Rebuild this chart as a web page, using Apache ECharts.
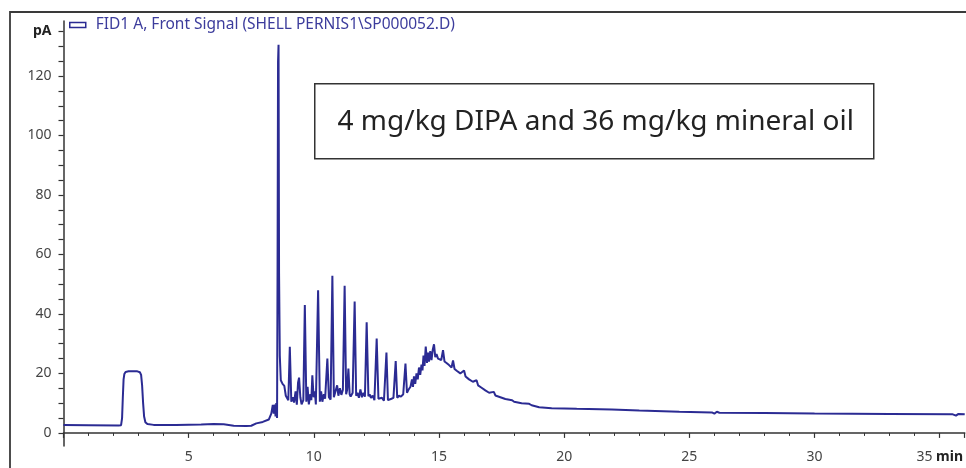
<!DOCTYPE html>
<html>
<head>
<meta charset="utf-8">
<script src="https://cdn.jsdelivr.net/npm/echarts@6/dist/echarts.min.js"></script>
<style>
    html, body { margin: 0; padding: 0; background: #fff; }
    #chart { width: 966px; height: 468px; }
</style>
</head>
<body>
<div id="chart"></div>
<script>
// retention time (min) and detector signal (pA)
const times = [
    0, 1.0, 2.2, 2.30, 2.34, 2.37, 2.40, 2.43, 2.48, 2.60, 2.95, 3.05, 3.10, 3.14, 3.18,
    3.22, 3.27, 3.35, 3.6,
    4.5, 5.5, 6.0, 6.4, 6.8, 7.3, 7.5, 7.7, 7.96, 8.2, 8.30, 8.36, 8.40, 8.44, 8.47,
    8.50, 8.53, 8.55, 8.57, 8.59, 8.61, 8.64, 8.68, 8.75, 8.82, 8.88, 8.92, 8.98, 9.04,
    9.10, 9.16, 9.21, 9.27, 9.32, 9.37, 9.41, 9.46, 9.51, 9.58, 9.64, 9.70, 9.75, 9.80,
    9.86, 9.90, 9.94, 9.99, 10.04, 10.08, 10.17, 10.24, 10.29, 10.34, 10.40, 10.45, 10.54,
    10.60, 10.67, 10.74, 10.80, 10.87, 10.93, 10.98, 11.04, 11.10, 11.16, 11.23, 11.29,
    11.33, 11.38, 11.43, 11.47, 11.55, 11.63, 11.69, 11.74, 11.80, 11.86, 11.92, 11.98,
    12.04, 12.11, 12.18, 12.23, 12.28, 12.35, 12.42, 12.51, 12.58, 12.64, 12.72, 12.80,
    12.90, 12.96, 13.02, 13.10, 13.18, 13.27, 13.33, 13.40, 13.48, 13.57, 13.66, 13.72,
    13.78, 13.86, 13.92, 13.96, 14.00, 14.05, 14.10, 14.15, 14.20, 14.25, 14.30, 14.34,
    14.38, 14.42, 14.47, 14.52, 14.56, 14.60, 14.65, 14.70, 14.75, 14.80, 14.85, 14.90,
    14.96, 15.02, 15.09, 15.16, 15.22, 15.30, 15.40, 15.50, 15.56, 15.62, 15.72, 15.85,
    16.00, 16.06, 16.20, 16.35, 16.50, 16.56, 16.70, 16.85, 17.00, 17.19, 17.25, 17.45,
    17.65, 17.92, 18.00, 18.30, 18.60, 18.65, 18.70, 19.0, 19.5, 20.5, 21.9, 23.0, 24.6,
    25.9, 26.0, 26.1, 26.2, 28, 30, 33, 35.5, 35.65, 35.75, 36
];
const signal = [
    2.7, 2.6, 2.5, 2.6, 5, 12, 18, 19.8, 20.5, 20.7, 20.7, 20.4, 19.5, 16, 10,
    5.5, 3.6, 3.0, 2.7,
    2.7, 2.8, 3.0, 2.9, 2.4, 2.3, 2.4, 3.2, 3.7, 4.5, 6.5, 9.4, 6.5, 9.5, 5.5,
    10, 5, 54, 124.8, 130.5, 54, 26, 17.7, 16.5, 15.8, 12.5, 12.2, 11, 29,
    10.5, 12, 10.2, 14, 9.5, 17, 18.6, 12, 9.6, 11, 43, 10.5, 15.5, 9.6,
    13, 11, 19.4, 12, 14, 9.6, 48, 10.5, 14, 10.5, 13, 11.5, 25,
    12, 11.2, 52.8, 12, 11.6, 16, 12.5, 15, 12.8, 14.5, 49.5, 13,
    14.5, 21.6, 13, 12.2, 13.5, 44.2, 12.5, 13.5, 11.8, 14.6, 12, 13.5,
    12.2, 37.2, 12.3, 13, 11.8, 12.5, 11, 31.7, 11.5, 11.2, 11.8, 10.8,
    27, 11, 10.5, 11.5, 11.8, 24.2, 11.8, 12.5, 12.2, 13, 23.3, 13.5,
    14.5, 15.5, 18, 15.5, 19, 16.5, 20, 18, 22, 19.5, 23, 21,
    26, 22.5, 29, 23.5, 27, 24, 27.5, 24.5, 28, 29.8, 25.5, 26.5,
    25, 25.5, 24.5, 27.8, 24, 23.5, 22.8, 22, 24.4, 21.5, 20.8, 20,
    21, 19, 18, 17.2, 17.7, 16, 15.2, 14.3, 13.5, 13.8, 12.6, 12,
    11.4, 11, 10.5, 10, 9.8, 10.3, 9.3, 8.6, 8.3, 8.1, 7.9, 7.5, 7.1,
    6.9, 6.5, 7.1, 6.8, 6.7, 6.5, 6.4, 6.3, 5.8, 6.4, 6.3
];
const xLabels = [5, 10, 15, 20, 25, 30, 35];
const yLabels = [0, 20, 40, 60, 80, 100, 120, 135];
const yTicks = [0, 5, 10, 15, 20, 25, 30, 35, 40, 45, 50, 55, 60, 65, 70, 75, 80, 85, 90, 95,
    100, 105, 110, 115, 120, 125, 130, 135];
const seriesName = 'FID1 A, Front Signal (SHELL PERNIS1\\SP000052.D)';
const noteText = '4 mg/kg DIPA and 36 mg/kg mineral oil';

const lineColor = '#2b2b93';
const axisColor = '#333';
const font = 'Noto Sans';

const chart = echarts.init(document.getElementById('chart'));
const option = {
    animation: false,
    backgroundColor: '#fff',
    textStyle: { fontFamily: font },
    grid: { left: 63.5, right: 0, top: 21, bottom: 22, containLabel: false },
    legend: {
        left: 64,
        top: 12,
        icon: 'rect',
        itemWidth: 16,
        itemHeight: 5,
        itemStyle: { color: '#fff', borderColor: lineColor, borderWidth: 1.5 },
        textStyle: { color: '#3c3c9c', fontSize: 15.5, fontFamily: font, padding: [0, 0, 0, 5] },
        data: [seriesName]
    },
    xAxis: {
        type: 'value',
        min: 0,
        max: 36,
        interval: 5,
        axisLine: { lineStyle: { color: axisColor, width: 1.5 } },
        axisTick: { length: 5, lineStyle: { color: axisColor, width: 1.2 } },
        minorTick: { show: true, splitNumber: 5, length: 3, lineStyle: { color: axisColor, width: 1 } },
        splitLine: { show: false },
        axisLabel: {
            customValues: xLabels,
            margin: 4,
            color: '#444',
            fontSize: 14,
            fontFamily: font,
            formatter: (v) => (v === 35 ? '35{u| min}' : String(v)),
            rich: { u: { fontWeight: 'bold', color: '#222', fontSize: 14, fontFamily: font } }
        }
    },
    yAxis: {
        type: 'value',
        min: -4.4,
        max: 138.5,
        axisLine: { show: true, lineStyle: { color: axisColor, width: 1.5 } },
        axisTick: { show: true, customValues: yTicks, length: 5, lineStyle: { color: axisColor, width: 1.2 } },
        splitLine: { show: false },
        axisLabel: {
            customValues: yLabels,
            margin: 12,
            color: '#444',
            fontSize: 14,
            fontFamily: font,
            formatter: (v) => (v === 135 ? '{u|pA}' : String(v)),
            rich: { u: { fontWeight: 'bold', color: '#222', fontSize: 14, fontFamily: font } }
        }
    },
    series: [
        {
            name: seriesName,
            type: 'line',
            data: times.map((t, i) => [t, signal[i]]),
            showSymbol: false,
            symbol: 'none',
            lineStyle: { color: lineColor, width: 2 },
            itemStyle: { color: lineColor },
            z: 3
        }
    ],
    graphic: [
        {
            type: 'rect',
            left: 7.5,
            top: 9.5,
            shape: { width: 1000, height: 500 },
            style: { fill: 'none', stroke: '#3a3a3a', lineWidth: 1.8 },
            silent: true
        },
        {
            type: 'group',
            left: 314,
            top: 83,
            children: [
                {
                    type: 'rect',
                    shape: { x: 0, y: 0, width: 559, height: 75 },
                    style: { fill: '#fff', stroke: '#333', lineWidth: 1.5 }
                },
                {
                    type: 'text',
                    x: 281,
                    y: 38,
                    style: {
                        text: noteText,
                        fill: '#222',
                        font: '28px "Noto Sans"',
                        align: 'center',
                        verticalAlign: 'middle'
                    }
                }
            ]
        }
    ]
};
chart.setOption(option);
</script>
</body>
</html>
